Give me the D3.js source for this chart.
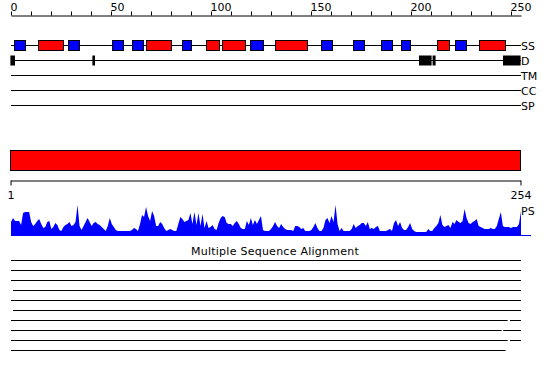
<!DOCTYPE html>
<html>
<head>
<meta charset="utf-8">
<script src="https://cdn.jsdelivr.net/npm/d3@7"></script>
<style>
  body { margin: 0; background: #fff; }
  svg { font-family: "DejaVu Sans", sans-serif; }
</style>
</head>
<body>
<div id="chart"></div>
<script>
// track labels on the right
var trackNames = ["SS", "D", "TM", "CC", "SP"];

// top ruler ticks
var rulerTicks = d3.range(0, 251, 10);
var rulerLabels = [0, 50, 100, 150, 200, 250];

// secondary structure: [type, start, end]  (H = helix red, E = strand blue)
var ssType  = ["E", "H", "E", "E", "E", "H", "E", "H", "H", "E", "H", "E", "E", "E", "E", "H", "E", "H"];
var ssStart = [1.5, 13.5, 28.5, 50.5, 60.5, 67.5, 85.5, 97.5, 105.5, 119.5, 132, 155, 171, 185, 195, 213, 222, 234];
var ssEnd   = [7, 26, 34, 56, 66, 80, 90, 104, 117, 126, 148, 160.5, 176.5, 190.5, 199.5, 219, 227.5, 247];

// disorder segments
var disStart = [-0.3, 40.7, 204, 210.8, 246];
var disEnd   = [2, 42, 210.3, 212.3, 254.8];

// sequence length
var seqStart = 1;
var seqEnd = 254;

// PS profile, residues 1..254
var psScore = [
  14,18,15,15,15,11,23,24,24,24, 14,10,12,15,17,12,8,9,14,15,
  7,9,13,11,6,5,9,11,12,14, 10,11,14,31,10,6,10,14,18,14,
  10,13,14,12,11,9,7,5,10,18, 12,9,6,5,5,5,5,5,5,5,
  6,8,7,5,12,21,19,29,20,15, 25,20,10,10,14,12,8,5,6,7,
  6,5,5,12,19,17,14,15,16,23, 12,24,11,23,10,22,8,15,8,9,
  11,7,6,13,18,20,19,13,12,12, 10,13,15,12,8,7,7,15,11,18,
  11,16,12,16,20,6,5,5,5,7, 10,14,10,8,12,9,7,6,6,6,
  5,10,10,9,7,8,5,5,5,6, 9,13,8,5,5,8,16,18,13,20,
  14,31,12,5,8,5,5,5,5,7, 12,8,10,11,13,13,10,14,7,8,
  7,9,10,5,5,5,5,6,7,5, 13,16,10,14,8,6,6,9,13,7,
  5,4,4,4,4,4,4,7,5,5, 8,10,13,21,11,9,10,11,8,14,
  12,16,14,13,15,27,18,13,12,14, 15,17,10,9,8,7,7,7,8,7,
  7,10,17,24,10,9,9,9,8,9, 9,9,12,25
];

// multiple sequence alignment rows: list of [start, end] pieces
var msaRows = [
  [[0, 255]],
  [[0, 255]],
  [[0, 255]],
  [[1, 255]],
  [[0, 255]],
  [[1, 255]],
  [[0, 248.3], [249.5, 255]],
  [[0, 245.3], [246.1, 255]],
  [[0, 248.3], [249.5, 255]],
  [[0, 247.3]]
];

var width = 550, height = 380;

var svg = d3.select("#chart").append("svg")
  .attr("width", width)
  .attr("height", height);

var pos = d3.scaleLinear().domain([0, 255]).range([11, 521]);
var ruler = d3.scaleLinear().domain([seqStart, seqEnd]).range([11, 521]);
var trackY = d3.scalePoint().domain(trackNames).range([45, 105]);

// top ruler
var topAxis = d3.axisTop(pos)
  .tickValues(rulerTicks)
  .tickSize(4)
  .tickSizeOuter(0)
  .tickPadding(1)
  .tickFormat(function(d) { return rulerLabels.indexOf(d) >= 0 ? d : ""; });

var gTop = svg.append("g")
  .attr("transform", "translate(0,15.5)")
  .style("color", "#000")
  .call(topAxis);
gTop.selectAll("text")
  .attr("text-anchor", "start")
  .attr("dx", -1)
  .style("font-size", "11px")
  .style("font-family", "DejaVu Sans");

// track lines
svg.selectAll("line.track").data(trackNames).enter()
  .append("line")
  .attr("class", "track")
  .attr("x1", pos(0)).attr("x2", pos(255))
  .attr("y1", function(d) { return trackY(d) + 0.5; })
  .attr("y2", function(d) { return trackY(d) + 0.5; })
  .attr("stroke", "#000");

svg.selectAll("text.track").data(trackNames).enter()
  .append("text")
  .attr("class", "track")
  .attr("x", 521)
  .attr("y", function(d) { return trackY(d) + 4.5; })
  .style("font-size", "11px")
  .text(function(d) { return d; });

// secondary structure boxes
svg.selectAll("rect.ss").data(ssType).enter()
  .append("rect")
  .attr("class", "ss")
  .attr("x", function(d, i) { return Math.round(pos(ssStart[i])) + 0.5; })
  .attr("width", function(d, i) { return Math.round(pos(ssEnd[i]) - pos(ssStart[i])); })
  .attr("y", trackY("SS") - 4.5)
  .attr("height", 10)
  .attr("fill", function(d) { return d == "H" ? "#ff0000" : "#0000ff"; })
  .attr("stroke", "#000");

// disorder boxes
svg.selectAll("rect.dis").data(disStart).enter()
  .append("rect")
  .attr("class", "dis")
  .attr("x", function(d) { return pos(d); })
  .attr("width", function(d, i) { return pos(disEnd[i]) - pos(d); })
  .attr("y", trackY("D") - 4.5)
  .attr("height", 10)
  .attr("fill", "#000");

// whole-sequence bar
svg.append("rect")
  .attr("x", ruler(seqStart) - 0.5)
  .attr("y", 150.5)
  .attr("width", ruler(seqEnd) - ruler(seqStart))
  .attr("height", 20)
  .attr("fill", "#ff0000")
  .attr("stroke", "#000");

// sequence ruler
var bottomAxis = d3.axisBottom(ruler)
  .tickValues([seqStart, seqEnd])
  .tickSize(5)
  .tickSizeOuter(0)
  .tickPadding(6);

var gBot = svg.append("g")
  .attr("transform", "translate(-0.5,180.5)")
  .style("color", "#000")
  .call(bottomAxis);
gBot.selectAll("text")
  .style("font-size", "11px")
  .style("font-family", "DejaVu Sans");

// PS profile
var yPS = d3.scaleLinear().domain([0, 32]).range([236, 204]);

var psArea = d3.area()
  .x(function(d, i) { return ruler(i + 1); })
  .y0(yPS(0))
  .y1(function(d) { return yPS(d); });

svg.append("path")
  .datum(psScore)
  .attr("d", psArea)
  .attr("fill", "#0000ff");

svg.append("line")
  .attr("x1", ruler(seqStart)).attr("x2", 531)
  .attr("y1", 235.5).attr("y2", 235.5)
  .attr("stroke", "#0000ff");

svg.append("text")
  .attr("x", 521)
  .attr("y", 215)
  .style("font-size", "11px")
  .text("PS");

// MSA
svg.append("text")
  .attr("x", 275)
  .attr("y", 255)
  .attr("text-anchor", "middle")
  .style("font-size", "11px")
  .style("letter-spacing", "0.25px")
  .text("Multiple Sequence Alignment");

msaRows.forEach(function(row, r) {
  svg.selectAll(null).data(row).enter()
    .append("line")
    .attr("x1", function(d) { return pos(d[0]); })
    .attr("x2", function(d) { return pos(d[1]); })
    .attr("y1", 260.5 + r * 10)
    .attr("y2", 260.5 + r * 10)
    .attr("stroke", "#000");
});
</script>
</body>
</html>
